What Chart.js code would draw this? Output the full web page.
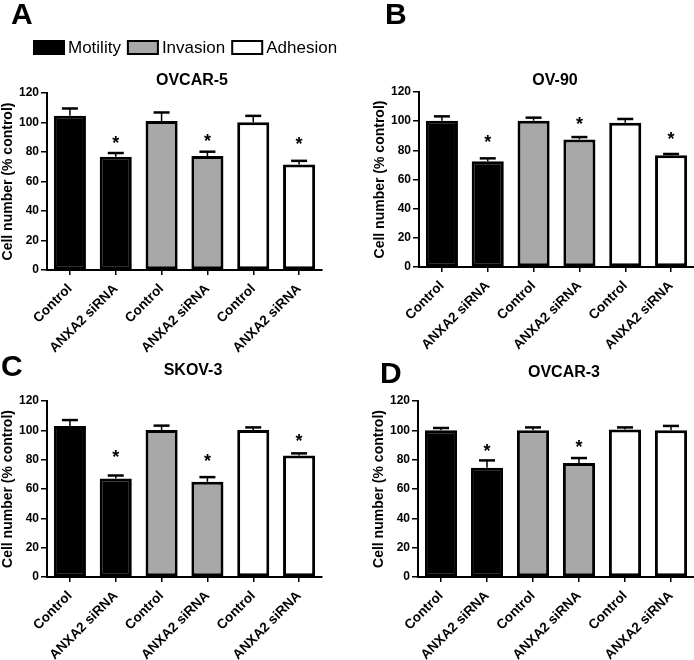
<!DOCTYPE html>
<html>
<head>
<meta charset="utf-8">
<script src="https://cdn.jsdelivr.net/npm/chart.js@4.4.0/dist/chart.umd.min.js"></script>
<style>
  body { margin: 0; background: #fff; }
  #wrap { position: relative; width: 694px; height: 660px; overflow: hidden; }
  canvas { position: absolute; }
</style>
</head>
<body>
<div id="wrap">
  <canvas id="panelA" width="347" height="360" style="left:0;top:0"></canvas>
  <canvas id="panelB" width="322" height="360" style="left:372px;top:0"></canvas>
  <canvas id="panelC" width="347" height="330" style="left:0;top:330px"></canvas>
  <canvas id="panelD" width="323" height="330" style="left:371px;top:330px"></canvas>
</div>
<script>
// categories along the x axis and the group each one belongs to
const categories = ['Control', 'ANXA2 siRNA', 'Control', 'ANXA2 siRNA', 'Control', 'ANXA2 siRNA'];
const categoryGroup = [0, 0, 1, 1, 2, 2];
const groups = ['Motility', 'Invasion', 'Adhesion'];
const groupColors = ['#000000', '#a8a8a8', '#ffffff'];
const yAxisTitle = 'Cell number (% control)';

// OVCAR-5
const ovcar5Mean = [104.5, 76.8, 101.0, 77.3, 100.2, 71.6];
const ovcar5Err = [5.0, 2.5, 5.8, 2.9, 4.3, 2.4];
const ovcar5Star = [null, 89.3, null, 90.5, null, 88.2];

// OV-90
const ov90Mean = [100.3, 72.5, 100.3, 87.5, 99.0, 76.6];
const ov90Err = [3.0, 2.0, 2.1, 1.6, 2.5, 0.9];
const ov90Star = [null, 89.1, null, 101.0, null, 90.7];

// SKOV-3
const skov3Mean = [103.0, 67.2, 100.2, 64.9, 100.2, 82.9];
const skov3Err = [4.0, 2.0, 3.0, 3.2, 1.8, 1.4];
const skov3Star = [null, 84.7, null, 82.0, null, 96.1];

// OVCAR-3
const ovcar3Mean = [100.0, 74.5, 100.0, 77.7, 100.5, 100.0];
const ovcar3Err = [1.6, 5.0, 2.0, 3.4, 1.5, 3.0];
const ovcar3Star = [null, 89.3, null, 92.0, null, null];

const FONT = 'Liberation Sans, Arial, Helvetica, sans-serif';

// error bars, asterisks, panel letter, title and (panel A) legend
const panelDecor = {
    id: 'panelDecor',
    afterDatasetsDraw(chart, args, opts) {
        const ctx = chart.ctx;
        const xs = chart.scales.x;
        const ys = chart.scales.y;
        ctx.save();
        ctx.strokeStyle = '#000';
        ctx.fillStyle = '#000';

        opts.mean.forEach(function(m, i){
            const cx = xs.getPixelForValue(i);
            const top = ys.getPixelForValue(m);
            const cap = ys.getPixelForValue(m + opts.err[i]);
            ctx.lineWidth = 1.5;
            ctx.beginPath(); ctx.moveTo(cx, top); ctx.lineTo(cx, cap); ctx.stroke();
            ctx.lineWidth = 2.5;
            ctx.beginPath(); ctx.moveTo(cx - 8, cap); ctx.lineTo(cx + 8, cap); ctx.stroke();
        });

        ctx.font = 'bold 18px ' + FONT;
        ctx.textAlign = 'center';
        ctx.textBaseline = 'alphabetic';
        opts.star.forEach(function(s, i){
            if (s == null) return;
            ctx.fillText('*', xs.getPixelForValue(i), ys.getPixelForValue(s) + 10.5);
        });

        ctx.font = 'bold 16px ' + FONT;
        ctx.fillText(opts.title, opts.titleX, opts.titleY);

        ctx.textAlign = 'left';
        ctx.font = 'bold 30px ' + FONT;
        ctx.fillText(opts.letter, opts.letterX, opts.letterY);

        if (opts.legend) {
            let x = 33;
            ctx.font = '17px ' + FONT;
            ctx.textBaseline = 'middle';
            groups.forEach(function(g, k){
                ctx.fillStyle = groupColors[k];
                ctx.fillRect(x, 40, 32, 15);
                ctx.lineWidth = 2;
                ctx.strokeRect(x + 1, 41, 30, 13);
                ctx.fillStyle = '#000';
                ctx.fillText(g, x + 35, 48);
                x += 35 + ctx.measureText(g).width + 6;
            });
        }
        ctx.restore();
    }
};

function Panel(id, cfg){
    this.canvas = document.getElementById(id);
    this.ctx = this.canvas.getContext('2d');

    this.datasets = function(){
        return groups.map(function(g, k){
            return {
                label: g,
                data: cfg.mean.map(function(v, i){ return categoryGroup[i] === k ? v : null; }),
                backgroundColor: groupColors[k],
                borderColor: '#000',
                borderWidth: 3,
                borderSkipped: false,
                categoryPercentage: 1.0,
                barPercentage: 0.7
            };
        });
    };

    this.show = function(){
        const H = this.canvas.height;
        return new Chart(this.ctx, {
            type: 'bar',
            data: { labels: categories, datasets: this.datasets() },
            options: {
                responsive: false,
                animation: false,
                devicePixelRatio: 1,
                skipNull: true,
                layout: { padding: { left: 0, right: cfg.padRight, top: cfg.top, bottom: 0 } },
                plugins: {
                    legend: { display: false },
                    tooltip: { enabled: false },
                    panelDecor: cfg
                },
                scales: {
                    x: {
                        offset: true,
                        grid: { display: true, drawOnChartArea: false, offset: false, drawTicks: true,
                                tickLength: 5, color: '#000', lineWidth: 1.5 },
                        border: { display: true, color: '#000', width: 2 },
                        ticks: { color: '#000', font: { family: FONT, size: 13.5, weight: 'bold' },
                                 minRotation: 45, maxRotation: 45, padding: 6 },
                        afterFit: function(s){ s.height = H - cfg.bottom; }
                    },
                    y: {
                        min: 0, max: 120,
                        grid: { display: true, drawOnChartArea: false, drawTicks: true,
                                tickLength: 6, color: '#000', lineWidth: 1.5 },
                        border: { display: true, color: '#000', width: 2 },
                        ticks: { stepSize: 20, color: '#000', padding: 2,
                                 font: { family: FONT, size: 12, weight: 'bold' } },
                        title: { display: true, text: yAxisTitle, color: '#000', padding: 0,
                                 font: { family: FONT, size: 14, weight: 'bold' } },
                        afterFit: function(s){ s.width = 47; }
                    }
                }
            },
            plugins: [panelDecor]
        });
    };
}

new Panel('panelA', { mean: ovcar5Mean, err: ovcar5Err, star: ovcar5Star, title: 'OVCAR-5',
    letter: 'A', letterX: 11, letterY: 24, titleX: 192, titleY: 85,
    top: 93, bottom: 270, padRight: 25, legend: true }).show();
new Panel('panelB', { mean: ov90Mean, err: ov90Err, star: ov90Star, title: 'OV-90',
    letter: 'B', letterX: 13, letterY: 24, titleX: 183, titleY: 85,
    top: 92, bottom: 267, padRight: 0, legend: false }).show();
new Panel('panelC', { mean: skov3Mean, err: skov3Err, star: skov3Star, title: 'SKOV-3',
    letter: 'C', letterX: 1, letterY: 46, titleX: 193, titleY: 45,
    top: 71, bottom: 247, padRight: 25, legend: false }).show();
new Panel('panelD', { mean: ovcar3Mean, err: ovcar3Err, star: ovcar3Star, title: 'OVCAR-3',
    letter: 'D', letterX: 9, letterY: 53, titleX: 193, titleY: 47,
    top: 71, bottom: 247, padRight: 0, legend: false }).show();
</script>
</body>
</html>
